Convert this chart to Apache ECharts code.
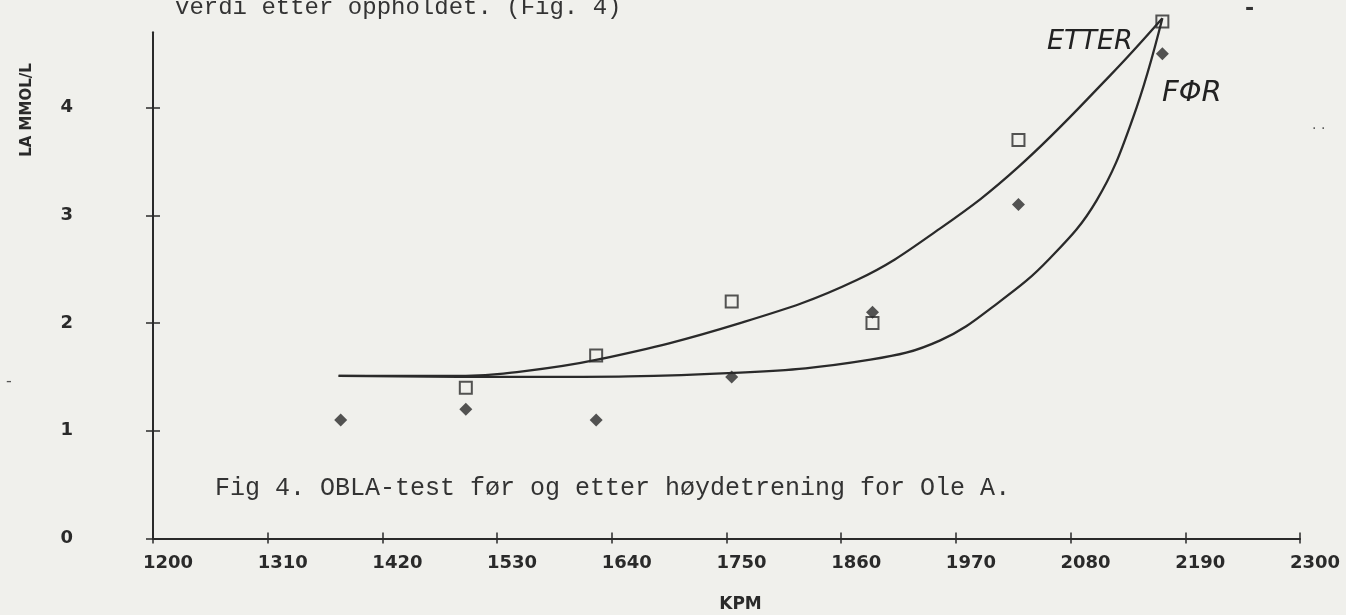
<!DOCTYPE html>
<html>
<head>
<meta charset="utf-8">
<script src="https://cdn.jsdelivr.net/npm/echarts@6/dist/echarts.min.js"></script>
<style>
html,body{margin:0;padding:0;background:#f0f0ec;}
#c{width:1346px;height:615px;}
</style>
</head>
<body>
<div id="c"></div>
<script>
// ---- data ----
const xTicks = [1200, 1310, 1420, 1530, 1640, 1750, 1860, 1970, 2080, 2190, 2300];
const yTicks = [0, 1, 2, 3, 4];
// FØR (before) measured points – filled diamonds
const forKpm = [1380, 1500, 1625, 1755, 1890, 2030, 2168];
const forLa  = [1.1, 1.2, 1.1, 1.5, 2.1, 3.1, 4.5];
// ETTER (after) measured points – open squares
const etterKpm = [1500, 1625, 1755, 1890, 2030, 2168];
const etterLa  = [1.4, 1.7, 2.2, 2.0, 3.7, 4.8];
// hand drawn fitted curves
const etterCurveKpm = [1378, 1500, 1536, 1626, 1763, 1875, 1955, 2030, 2118, 2168];
const etterCurveLa  = [1.51, 1.51, 1.53, 1.66, 2.00, 2.40, 2.88, 3.45, 4.30, 4.83];
const forCurveKpm = [1378, 1548, 1763, 1888, 1955, 2012, 2060, 2105, 2140, 2168];
const forCurveLa  = [1.51, 1.50, 1.54, 1.66, 1.84, 2.20, 2.60, 3.14, 3.91, 4.83];

const topText = 'verdi etter oppholdet. (Fig. 4)';
const caption = 'Fig 4. OBLA-test før og etter høydetrening for Ole A.';
const yName = 'LA MMOL/L';
const xName = 'KPM';
const etterLabel = 'ETTER';
const forLabel = 'FΦR';

const zip = (a, b) => a.map((v, i) => [v, b[i]]);
const ink = '#2a2a2a';
const labelFont = 'DejaVu Sans';

const chart = echarts.init(document.getElementById('c'), null, {renderer: 'canvas'});
chart.setOption({
  backgroundColor: '#f0f0ec',
  animation: false,
  grid: {left: 153, right: 46, top: 32.3, bottom: 76.5, outerBoundsMode: 'none'},
  xAxis: [{
    type: 'value', min: 1200, max: 2300, interval: 110,
    name: xName, nameLocation: 'middle', nameGap: 58,
    nameTextStyle: {fontFamily: labelFont, fontWeight: 'bold', fontSize: 17, color: ink, padding: [0, 0, 0, 28]},
    axisLine: {show: true, onZero: false, lineStyle: {color: ink, width: 2}},
    axisTick: {show: true, length: 5, lineStyle: {color: ink, width: 1.5}},
    axisLabel: {show: true, margin: 16, fontFamily: labelFont, fontWeight: 'bold', fontSize: 18, color: ink,
      padding: [0, 0, 0, 30], formatter: v => String(v)},
    splitLine: {show: false}
  }, {
    type: 'value', min: 1200, max: 2300, interval: 110, position: 'bottom',
    axisLine: {show: false},
    axisTick: {show: true, inside: true, length: 6, lineStyle: {color: ink, width: 1.5}},
    axisLabel: {show: false}, splitLine: {show: false}
  }],
  yAxis: [{
    type: 'value', min: 0, max: 4.7,
    axisLine: {show: true, onZero: false, lineStyle: {color: ink, width: 2}},
    axisTick: {show: true, length: 7, customValues: yTicks, lineStyle: {color: ink, width: 1.5}},
    axisLabel: {show: true, margin: 80, customValues: yTicks, fontFamily: labelFont, fontWeight: 'bold', fontSize: 18, color: ink},
    splitLine: {show: false}
  }, {
    type: 'value', min: 0, max: 4.7, position: 'left',
    axisLine: {show: false},
    axisTick: {show: true, inside: true, length: 7, customValues: yTicks, lineStyle: {color: ink, width: 1.5}},
    axisLabel: {show: false}, splitLine: {show: false}
  }],
  series: [
    {type: 'line', name: 'ETTER kurve', data: zip(etterCurveKpm, etterCurveLa), smooth: 0.4,
      showSymbol: false, clip: false, lineStyle: {color: ink, width: 2.3}},
    {type: 'line', name: 'FØR kurve', data: zip(forCurveKpm, forCurveLa), smooth: 0.4,
      showSymbol: false, clip: false, lineStyle: {color: ink, width: 2.3}},
    {type: 'scatter', name: 'FØR', data: zip(forKpm, forLa), symbol: 'diamond', symbolSize: [13, 13], clip: false,
      itemStyle: {color: ink}},
    {type: 'scatter', name: 'ETTER', data: zip(etterKpm, etterLa), symbol: 'rect', symbolSize: 12, clip: false,
      itemStyle: {color: 'rgba(0,0,0,0)', borderColor: ink, borderWidth: 2}}
  ],
  graphic: [
    {type: 'text', left: 175, top: -4, style: {text: topText, font: '24px "Liberation Mono"', fill: '#333'}},
    {type: 'text', left: 215, top: 476, style: {text: caption, font: '25px "Liberation Mono"', fill: '#333'}},
    {type: 'text', x: 27, y: 110, rotation: Math.PI / 2,
      style: {text: yName, font: 'bold 15px "DejaVu Sans"', fill: ink, align: 'center', verticalAlign: 'middle'}},
    {type: 'text', left: 1047, top: 28, style: {text: etterLabel, font: 'italic 27px "DejaVu Sans"', fill: '#222'}},
    {type: 'text', left: 1162, top: 79, style: {text: forLabel, font: 'italic 29px "DejaVu Sans"', fill: '#222'}},
    {type: 'text', left: 1245, top: -2, style: {text: '-', font: 'bold 22px "DejaVu Sans"', fill: '#333'}},
    {type: 'text', left: 1312, top: 118, style: {text: '. .', font: '14px "DejaVu Sans"', fill: '#555'}},
    {type: 'text', left: 6, top: 374, style: {text: '-', font: '16px "DejaVu Sans"', fill: '#555'}}
  ]
});
</script>
</body>
</html>
